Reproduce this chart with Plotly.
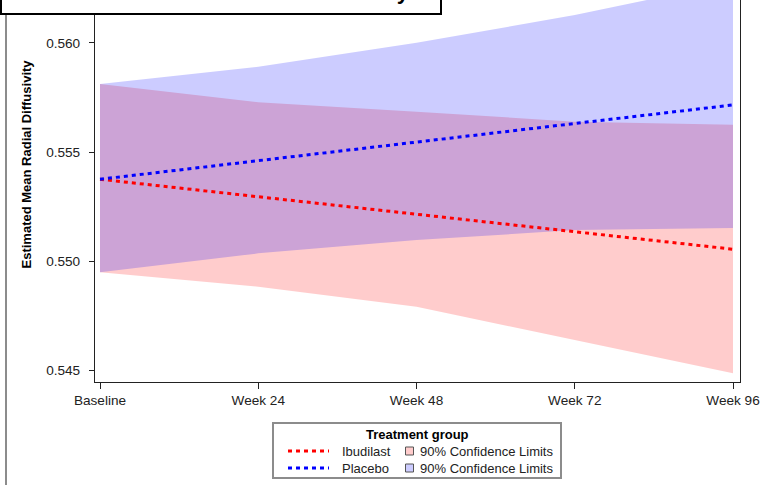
import plotly.graph_objects as go

# Visit labels and model estimates
weeks = ["Baseline", "Week 24", "Week 48", "Week 72", "Week 96"]

ibu_mean = [0.55375, 0.55295, 0.55215, 0.55134, 0.55054]
ibu_lower = [0.54948, 0.54882, 0.54790, 0.54638, 0.54485]
ibu_upper = [0.55812, 0.55728, 0.55685, 0.55639, 0.55625]

pla_mean = [0.55375, 0.55460, 0.55546, 0.55631, 0.55716]
pla_lower = [0.54948, 0.55035, 0.55096, 0.55142, 0.55151]
pla_upper = [0.55812, 0.55891, 0.56001, 0.56128, 0.56280]

y_ticks = [0.545, 0.550, 0.555, 0.560]

W, H = 767, 485
ML, MR, MT, MB = 95, 27, 0, 103
PW, PH = W - ML - MR, H - MT - MB

FONT = "Liberation Sans, Arial, sans-serif"
RED = "rgb(255,0,0)"
BLUE = "rgb(0,0,255)"
RED_BAND = "rgba(255,0,0,0.2)"
BLUE_BAND = "rgba(0,0,255,0.2)"
DOTS = "4px,4px"


def px(x):
    return (x - ML) / PW


def py(y):
    return (MT + PH - y) / PH


fig = go.Figure()

# Confidence bands
fig.add_trace(go.Scatter(x=weeks, y=ibu_lower, mode="lines", line=dict(width=0),
                         showlegend=False, hoverinfo="skip"))
fig.add_trace(go.Scatter(x=weeks, y=ibu_upper, mode="lines", line=dict(width=0),
                         fill="tonexty", fillcolor=RED_BAND, showlegend=False))
fig.add_trace(go.Scatter(x=weeks, y=pla_lower, mode="lines", line=dict(width=0),
                         showlegend=False, hoverinfo="skip"))
fig.add_trace(go.Scatter(x=weeks, y=pla_upper, mode="lines", line=dict(width=0),
                         fill="tonexty", fillcolor=BLUE_BAND, showlegend=False))

# Estimated means
fig.add_trace(go.Scatter(x=weeks, y=ibu_mean, mode="lines", name="Ibudilast",
                         line=dict(color=RED, width=3, dash=DOTS), showlegend=False))
fig.add_trace(go.Scatter(x=weeks, y=pla_mean, mode="lines", name="Placebo",
                         line=dict(color=BLUE, width=3, dash=DOTS), showlegend=False))

axis_font = dict(family=FONT, size=13.6, color="#222")

fig.update_xaxes(type="category", range=[-0.0316, 4.0442], showgrid=False,
                 zeroline=False, showline=True, linecolor="#222", linewidth=1.2,
                 ticks="outside", ticklen=6, tickcolor="#222", tickfont=axis_font)
fig.update_yaxes(range=[0.54445, 0.561972], tickvals=y_ticks, tickformat=".3f",
                 showgrid=False, zeroline=False, showline=True, mirror=True,
                 linecolor="#222", linewidth=1.2, ticks="outside", ticklen=5,
                 tickcolor="#222", tickfont=axis_font, ticklabelstandoff=6)

shapes = []
annotations = []

# Outer frame edge on the left
shapes.append(dict(type="line", xref="paper", yref="paper",
                   x0=px(6), x1=px(6), y0=py(485), y1=py(10),
                   line=dict(color="#8c8c8c", width=2)))

# Title box along the top (the title itself sits above the page edge)
shapes.append(dict(type="rect", xref="paper", yref="paper",
                   x0=px(1), x1=px(441), y0=py(14), y1=py(-60),
                   fillcolor="white", line=dict(color="black", width=2)))
annotations.append(dict(text="<b>Estimated Mean Radial Diffusivity</b>",
                        xref="paper", yref="paper", x=px(411), y=py(4.5),
                        xanchor="right", yanchor="bottom", showarrow=False,
                        borderpad=0,
                        font=dict(family=FONT, size=22, color="black")))

# Y axis title
annotations.append(dict(text="<b>Estimated Mean Radial Diffusivity</b>",
                        xref="paper", yref="paper", x=px(26), y=py(164.5),
                        xanchor="center", yanchor="middle", textangle=-90,
                        showarrow=False,
                        font=dict(family=FONT, size=13, color="black")))

# Legend panel
shapes.append(dict(type="rect", xref="paper", yref="paper",
                   x0=px(273), x1=px(561), y0=py(478), y1=py(423),
                   fillcolor="white", line=dict(color="#8c8c8c", width=2)))
annotations.append(dict(text="<b>Treatment group</b>", xref="paper", yref="paper",
                        x=px(417), y=py(434), xanchor="center", yanchor="middle",
                        showarrow=False, font=dict(family=FONT, size=13, color="black")))

legend_rows = [("Ibudilast", RED, RED_BAND, 451), ("Placebo", BLUE, BLUE_BAND, 468)]
for label, col, band, yy in legend_rows:
    shapes.append(dict(type="line", xref="paper", yref="paper",
                       x0=px(288), x1=px(329), y0=py(yy), y1=py(yy),
                       line=dict(color=col, width=3, dash=DOTS)))
    annotations.append(dict(text=label, xref="paper", yref="paper",
                            x=px(340), y=py(yy), xanchor="left", yanchor="middle",
                            showarrow=False,
                            font=dict(family=FONT, size=13, color="#222")))
    shapes.append(dict(type="rect", xref="paper", yref="paper",
                       x0=px(405.5), x1=px(413.5), y0=py(yy + 4), y1=py(yy - 4),
                       fillcolor=band, line=dict(color="#555", width=1)))
    annotations.append(dict(text="90% Confidence Limits", xref="paper", yref="paper",
                            x=px(418), y=py(yy), xanchor="left", yanchor="middle",
                            showarrow=False,
                            font=dict(family=FONT, size=13, color="#222")))

fig.update_layout(width=W, height=H,
                  margin=dict(l=ML, r=MR, t=MT, b=MB, pad=0),
                  paper_bgcolor="white", plot_bgcolor="white",
                  showlegend=False, shapes=shapes, annotations=annotations,
                  font=dict(family=FONT))

fig.write_html("out.html")
